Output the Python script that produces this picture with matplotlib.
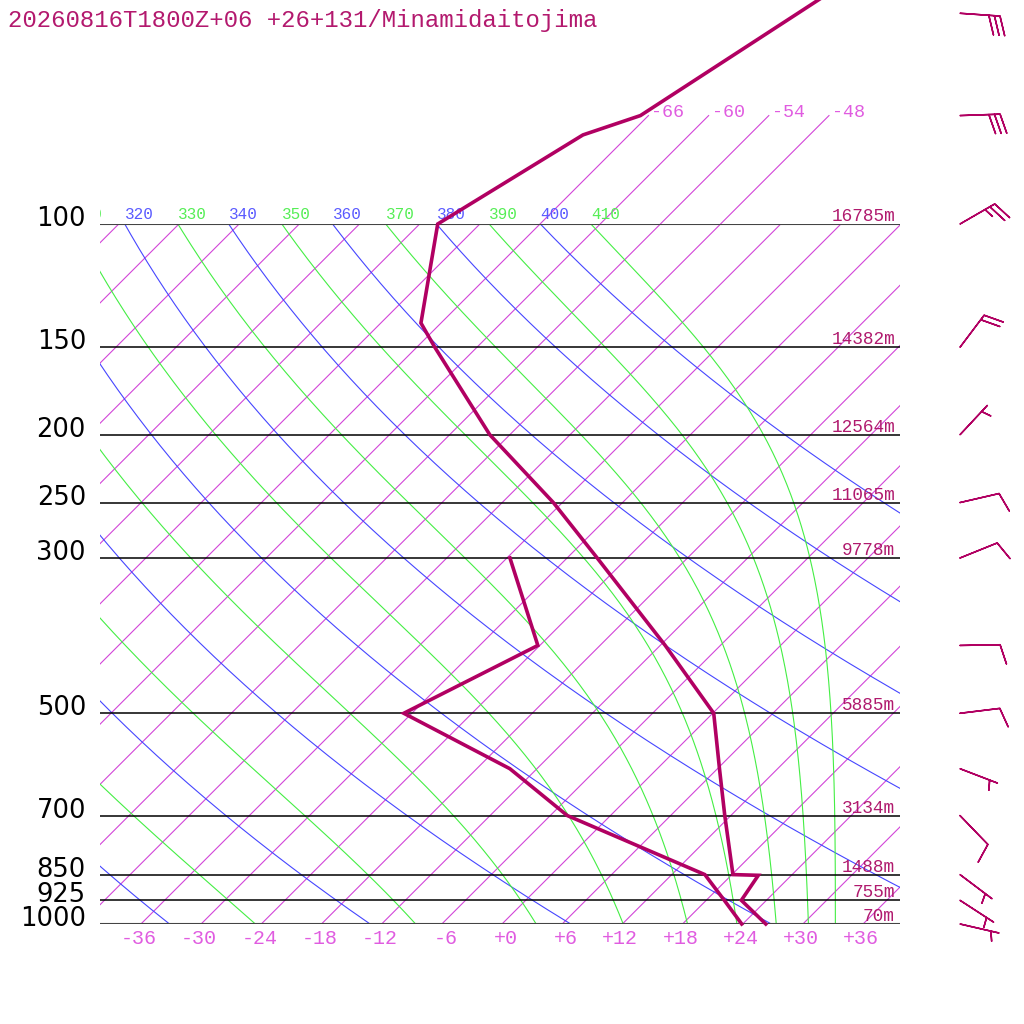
import numpy as np
import matplotlib
matplotlib.use('Agg')
import matplotlib.pyplot as plt
from matplotlib.transforms import Affine2D, Bbox

# ---------------- data ----------------
title = "20260816T1800Z+06 +26+131/Minamidaitojima"

temp_p = [1000, 925, 852, 850, 700, 600, 500, 400, 300, 250, 200, 150, 138.5, 100, 74.6, 70, 50, 30]
temp_t = [26.3, 21.5, 20.7, 18.1, 11.4, 6.2, 0.1, -11.5, -27.0, -36.9, -50.0, -64.2, -68.0, -76.2, -70.6, -66.8, -61.3, -53.0]

dew_p = [1000, 925, 850, 700, 600, 500, 400, 300]
dew_t = [23.9, 19.8, 15.3, -4.3, -14.7, -30.8, -24.2, -35.7]

isobar_p = [1000, 925, 850, 700, 500, 300, 250, 200, 150, 100]
isobar_lbl = ['1000', '925', '850', '700', '500', '300', '250', '200', '150', '100']
height_lbl = ['70m', '755m', '1488m', '3134m', '5885m', '9778m', '11065m', '12564m', '14382m', '16785m']

tick_t = [-36, -30, -24, -18, -12, -6, 0, 6, 12, 18, 24, 30, 36]
tick_lbl = ['-36', '-30', '-24', '-18', '-12', '-6', '+0', '+6', '+12', '+18', '+24', '+30', '+36']

isotherms = list(range(-114, 37, 6))
upper_isotherms = [-66, -60, -54, -48]
upper_lbl = ['-66', '-60', '-54', '-48']
upper_top_p = 70

dry_theta = [240, 260, 280, 300, 320, 340, 360, 380, 400]
moist_thetae = [250, 270, 290, 310, 330, 350, 370, 390, 410]

wind_p = [50, 70, 100, 150, 200, 250, 300, 400, 500, 600, 700, 850, 925, 1000]
wind_dir = [94, 88, 60, 37, 43, 77, 68, 89, 83, 111, 136, 127, 123, 103]
wind_spd = [30, 30, 25, 20, 5, 10, 10, 10, 10, 5, 10, 5, 5, 5]

# ---------------- styles ----------------
C_PROF = '#b10062'
C_HGT = '#b01a6e'
C_ISOT = '#d246d8'
C_ISOT_LBL = '#e05ce0'
C_DRY = '#4646ff'
C_MOIST = '#44ee44'
MONO = 'Liberation Mono'

fig = plt.figure(figsize=(10.24, 10.24), dpi=100)
ax = fig.add_axes([100 / 1024, 100 / 1024, 800 / 1024, 700 / 1024])
ax.set_yscale('log')
ax.set_ylim(1000, 100)
ax.set_xlim(-402 / 10.03, 398 / 10.03)
ax.axis('off')

# skew: 45 degrees, anchored at the 1000 hPa level (display y = 100)
skew = ax.transData + Affine2D().translate(0, -100).skew_deg(45, 0).translate(0, 100)

# isotherms
for t in isotherms:
    ax.plot([t, t], [1000, 100], color=C_ISOT, lw=0.8, transform=skew)
for t, lbl in zip(upper_isotherms, upper_lbl):
    ax.plot([t, t], [100, upper_top_p], color=C_ISOT, lw=0.8, transform=skew, clip_on=False)
    ax.annotate(lbl, xy=(t, upper_top_p), xycoords=skew, xytext=(3, -1), textcoords='offset pixels',
                ha='left', va='baseline', color=C_ISOT_LBL, fontsize=13.2, family=MONO)

# dry adiabats
pp = np.logspace(3, 2, 200)
label_clip = Bbox([[100, 0], [1024, 1024]])
for th in dry_theta:
    tt = th * (pp / 1000.0) ** 0.2857 - 273.15
    ax.plot(tt, pp, color=C_DRY, lw=0.8, transform=skew)
    txt = ax.annotate(str(th), xy=(tt[-1], 100), xycoords=skew, xytext=(0, 5), textcoords='offset pixels',
                      ha='left', va='baseline', color='#5a5aff', fontsize=11.5, family=MONO)
    txt.set_clip_box(label_clip)
    txt.set_clip_on(True)


# pseudo-adiabats (constant theta-e, Bolton 1980)
def theta_e(tc, p):
    tk = tc + 273.15
    es = 6.112 * np.exp(17.67 * tc / (tc + 243.5))
    r = 622.0 * es / (p - es)
    return tk * (1000.0 / p) ** (0.2854 * (1 - 0.28e-3 * r)) * np.exp((3.376 / tk - 0.00254) * r * (1 + 0.81e-3 * r))


for the in moist_thetae:
    lo = np.full_like(pp, -150.0)
    hi = np.full_like(pp, 40.0)
    for _ in range(60):
        mid = 0.5 * (lo + hi)
        f = theta_e(mid, pp) > the
        hi = np.where(f, mid, hi)
        lo = np.where(f, lo, mid)
    tt = 0.5 * (lo + hi)
    ax.plot(tt, pp, color=C_MOIST, lw=0.8, transform=skew)
    txt = ax.annotate(str(the), xy=(tt[-1], 100), xycoords=skew, xytext=(0, 5), textcoords='offset pixels',
                      ha='left', va='baseline', color='#55ee55', fontsize=11.5, family=MONO)
    txt.set_clip_box(label_clip)
    txt.set_clip_on(True)

# isobars
for p, lbl, h in zip(isobar_p, isobar_lbl, height_lbl):
    edge = p in (100, 1000)
    ax.axhline(p, color='#444444' if edge else 'black', lw=1.5 if edge else 1.1, zorder=3)
    ax.annotate(lbl, xy=(0, p), xycoords=ax.get_yaxis_transform(), xytext=(-14, -2),
                textcoords='offset pixels', ha='right', va='baseline', color='black',
                fontsize=18.5, family='DejaVu Sans', annotation_clip=False)
    ax.annotate(h, xy=(795 / 800, p), xycoords=ax.get_yaxis_transform(), xytext=(0, 3),
                textcoords='offset pixels', ha='right', va='baseline', color=C_HGT,
                fontsize=12.8, family=MONO, zorder=5, annotation_clip=False)

# temperature ticks
for t, lbl in zip(tick_t, tick_lbl):
    ax.annotate(lbl, xy=(t, 1000), xycoords='data', xytext=(16, -20), textcoords='offset pixels',
                ha='right', va='baseline', color=C_ISOT_LBL, fontsize=14.4, family=MONO,
                annotation_clip=False)

# profiles
ax.plot(temp_t, temp_p, color=C_PROF, lw=2.6, transform=skew, clip_on=False, zorder=6,
        solid_joinstyle='miter')
ax.plot(dew_t, dew_p, color=C_PROF, lw=2.6, transform=skew, clip_on=False, zorder=6,
        solid_joinstyle='miter')

# wind barbs
az = np.deg2rad(np.array(wind_dir, dtype=float))
spd = np.array(wind_spd, dtype=float)
u = -spd * np.sin(az)
v = -spd * np.cos(az)
ax.barbs(np.full(len(wind_p), 860 / 800), wind_p, u, v, transform=ax.get_yaxis_transform(),
         length=7.6, color=C_PROF, linewidth=1.1, clip_on=False, pivot='tip',
         sizes=dict(spacing=0.14, height=0.48, width=0.3, emptybarb=0.0))

fig.text(8 / 1024, 1 - 27 / 1024, title, color='#b3196e', fontsize=17.3, family=MONO,
         ha='left', va='baseline')

fig.savefig('out.png', dpi=100)
